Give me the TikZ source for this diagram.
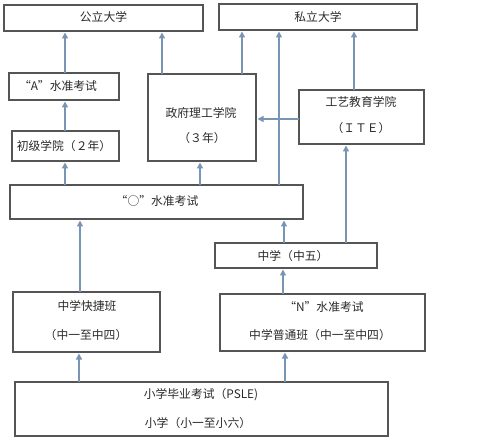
\documentclass[tikz,border=0pt]{standalone}
\usepackage{fontspec}
\setmainfont{Noto Sans CJK SC}
\usetikzlibrary{arrows.meta}
\definecolor{boxline}{HTML}{555555}
\definecolor{arrowc}{HTML}{7895B4}
\definecolor{txt}{HTML}{2A2A2A}
\tikzset{
  box/.style={draw=boxline, line width=1.1pt, inner sep=0pt, outer sep=0pt, anchor=north west},
  lbl/.style={text=txt, inner sep=0pt, font=\fontsize{11.8}{13}\selectfont},
  arr/.style={draw=arrowc, line width=1.4pt, -{Triangle[width=6pt,length=6pt]}, shorten >=1.5pt}
}
\begin{document}
\begin{tikzpicture}[x=1pt,y=-1pt]
\useasboundingbox[fill=white] (0,0) rectangle (503,446);
% boxes
\node[box, minimum width=199pt, minimum height=26pt] (pub)  at (4,5) {};
\node[box, minimum width=198pt, minimum height=26pt] (pri)  at (219,4) {};
\node[box, minimum width=110pt, minimum height=27pt] (alv)  at (9,73) {};
\node[box, minimum width=107pt, minimum height=30pt] (jc)   at (12,131) {};
\node[box, minimum width=108pt, minimum height=87pt] (poly) at (148,74) {};
\node[box, minimum width=125pt, minimum height=54pt] (ite)  at (299,90) {};
\node[box, minimum width=293pt, minimum height=34pt] (olv)  at (10,185) {};
\node[box, minimum width=162pt, minimum height=25pt] (sec5) at (215,243) {};
\node[box, minimum width=147pt, minimum height=60pt] (exp)  at (13,292) {};
\node[box, minimum width=205pt, minimum height=57pt] (nrm)  at (220,294) {};
\node[box, minimum width=373pt, minimum height=54pt] (psl)  at (15,382) {};
% texts
\node[lbl] (pubT)   at (103.5,17) {公立大学};
\node[lbl] (priT)   at (318,17) {私立大学};
\node[lbl] (alvT)   at (58,86) {“A”水准考试};
\node[lbl] (jcT)    at (64,146) {初级学院（２年）};
\node[lbl] (polyT1) at (201,113) {政府理工学院};
\node[lbl] (polyT2) at (202,138) {（３年）};
\node[lbl] (iteT1)  at (361,102) {工艺教育学院};
\node[lbl] (iteT2)  at (361,128) {（ＩＴＥ）};
\node[lbl] (olvT)   at (157,201) {“○”水准考试};
\node[lbl] (sec5T)  at (293,256) {中学（中五）};
\node[lbl] (expT1)  at (87,306) {中学快捷班};
\node[lbl] (expT2)  at (86,335) {（中一至中四）};
\node[lbl] (nrmT1)  at (324,307) {“N”水准考试};
\node[lbl] (nrmT2)  at (320,335) {中学普通班（中一至中四）};
\node[lbl] (pslT1)  at (201,395) {小学毕业考试（PSLE)};
\node[lbl] (pslT2)  at (198,423) {小学（小一至小六）};
% arrow columns
\coordinate (x65) at (65,0);
\coordinate (x162) at (162,0);
\coordinate (x242) at (242,0);
\coordinate (x279) at (279,0);
\coordinate (x354) at (354,0);
\coordinate (x200) at (200,0);
\coordinate (x346) at (346,0);
\coordinate (x80) at (80,0);
\coordinate (x284) at (284,0);
\coordinate (x283) at (283,0);
\coordinate (x79) at (79,0);
\coordinate (x285) at (285,0);
\coordinate (y119) at (0,119);
% arrows
\draw[arr] (alv.north -| x65) -- (pub.south -| x65);
\draw[arr] (jc.north -| x65) -- (alv.south -| x65);
\draw[arr] (olv.north -| x65) -- (jc.south -| x65);
\draw[arr] (poly.north -| x162) -- (pub.south -| x162);
\draw[arr] (poly.north -| x242) -- (pri.south -| x242);
\draw[arr] (olv.north -| x279) -- (pri.south -| x279);
\draw[arr] (ite.north -| x354) -- (pri.south -| x354);
\draw[arr] (olv.north -| x200) -- (poly.south -| x200);
\draw[arr] (ite.west |- y119) -- (poly.east |- y119);
\draw[arr] (sec5.north -| x346) -- (ite.south -| x346);
\draw[arr] (exp.north -| x80) -- (olv.south -| x80);
\draw[arr] (sec5.north -| x284) -- (olv.south -| x284);
\draw[arr] (nrm.north -| x283) -- (sec5.south -| x283);
\draw[arr] (psl.north -| x79) -- (exp.south -| x79);
\draw[arr] (psl.north -| x285) -- (nrm.south -| x285);
\end{tikzpicture}
\end{document}
